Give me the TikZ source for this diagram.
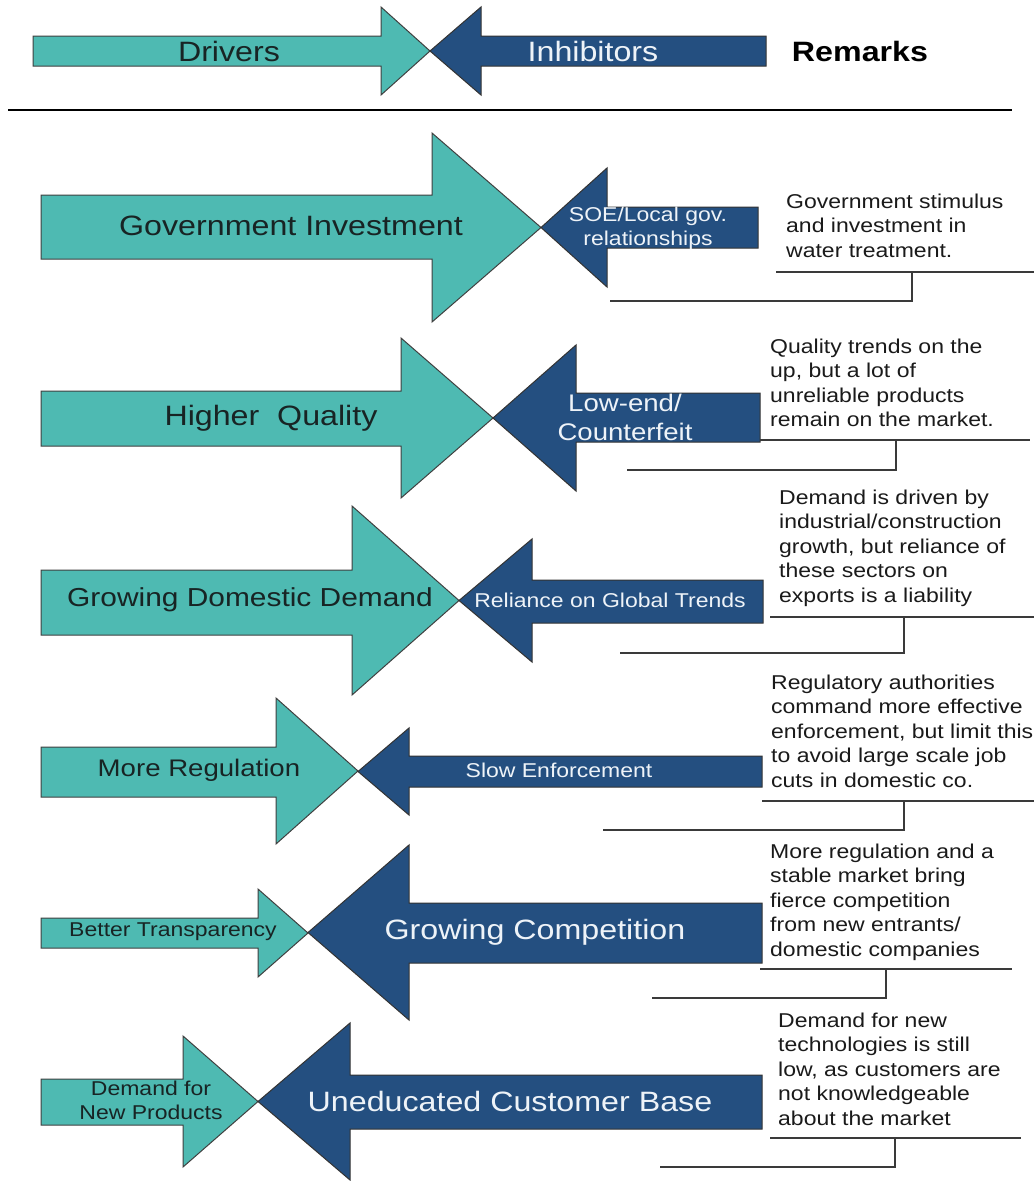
\documentclass[tikz,border=0pt]{standalone}
\usepackage{fontspec}
\setmainfont{Liberation Sans}[FakeStretch=1.15]
\definecolor{drvfill}{RGB}{78,186,178}
\definecolor{inhfill}{RGB}{36,79,128}
\definecolor{darktxt}{RGB}{24,36,36}
\definecolor{lighttxt}{RGB}{238,243,248}
\definecolor{remtxt}{RGB}{26,26,26}
\definecolor{linecol}{RGB}{58,58,58}
\newcommand{\RArrow}[7]{%
  \filldraw[drv] (#1,#4) -- (#2,#4) -- (#2,#6) -- (#3,{(#6+#7)/2}) -- (#2,#7) -- (#2,#5) -- (#1,#5) -- cycle;}
\newcommand{\LArrow}[7]{%
  \filldraw[inh] (#3,#4) -- (#2,#4) -- (#2,#6) -- (#1,{(#6+#7)/2}) -- (#2,#7) -- (#2,#5) -- (#3,#5) -- cycle;}
\begin{document}
\begin{tikzpicture}[x=1pt,y=-1pt,
  drv/.style={fill=drvfill,draw=black!75,line width=1pt,line join=miter},
  inh/.style={fill=inhfill,draw=black!80,line width=1pt,line join=miter},
  bigdark/.style={inner sep=0pt,text=darktxt,font=\fontsize{28}{33}\selectfont},
  bigwhite/.style={inner sep=0pt,text=lighttxt,font=\fontsize{28}{33}\selectfont},
  smdark/.style={inner sep=0pt,text=darktxt,align=center,font=\fontsize{20}{24}\selectfont},
  smwhite/.style={inner sep=0pt,text=lighttxt,align=center,font=\fontsize{20}{24}\selectfont},
  remark/.style={inner sep=0pt,anchor=north west,align=left,text=remtxt,font=\fontsize{20}{24.5}\selectfont},
  bracket/.style={draw=linecol,line width=1.5pt}]
\useasboundingbox (0,0) rectangle (1034,1181);
\fill[white] (0,0) rectangle (1034,1181);

% header
\RArrow{33}{381}{430}{36}{66}{7}{95}
\LArrow{430}{481}{766}{36}{66}{7}{95}
\node[bigdark] (hdrv) at (229,51) {Drivers};
\node[bigwhite] (hinh) at (593,51) {Inhibitors};
\node[inner sep=0pt,text=black,font=\fontsize{28}{33}\selectfont\bfseries] (hrem) at (860,51) {Remarks};
\coordinate (sepL) at (8,110);
\coordinate (sepR) at (1012,110);
\draw[black,line width=1.5pt] (sepL) -- (sepR);

% row 1
\RArrow{41}{432}{541}{195}{259}{133}{322}
\LArrow{541}{607}{758}{207}{248}{168}{287}
\node[bigdark] (d1) at (291,226) {Government Investment};
\node[smwhite] (i1) at (648,228) {SOE/Local gov.\\relationships};
\node[remark] (r1) at (786,191) {\strut Government stimulus\\and investment in\\water treatment.};
\coordinate (u1L) at (776,272); \coordinate (u1R) at (1034,272);
\coordinate (u1M) at (912,272); \coordinate (b1L) at (610,301);
\draw[bracket] (u1L) -- (u1R);
\draw[bracket] (u1M) |- (b1L);

% row 2
\RArrow{41}{401}{493}{391}{446}{338}{498}
\LArrow{493}{576}{760}{393}{442}{345}{491}
\node[bigdark] (d2) at (271,418) {Higher\ \ Quality};
\node[inner sep=0pt,text=lighttxt,align=center,font=\fontsize{24}{29}\selectfont] (i2) at (625,417) {Low-end/\\Counterfeit};
\node[remark] (r2) at (770,336) {\strut Quality trends on the\\up, but a lot of\\unreliable products\\remain on the market.};
\coordinate (u2L) at (760,440); \coordinate (u2R) at (1030,440);
\coordinate (u2M) at (896,440); \coordinate (b2L) at (627,470);
\draw[bracket] (u2L) -- (u2R);
\draw[bracket] (u2M) |- (b2L);

% row 3
\RArrow{41}{352}{459}{570}{635}{506}{695}
\LArrow{459}{532}{763}{580}{623}{539}{662}
\node[inner sep=0pt,text=darktxt,font=\fontsize{26}{31}\selectfont] (d3) at (250,600) {Growing Domestic Demand};
\node[smwhite] (i3) at (610,600) {Reliance on Global Trends};
\node[remark] (r3) at (779,487) {\strut Demand is driven by\\industrial/construction\\growth, but reliance of\\these sectors on\\exports is a liability};
\coordinate (u3L) at (770,617); \coordinate (u3R) at (1034,617);
\coordinate (u3M) at (904,617); \coordinate (b3L) at (620,653);
\draw[bracket] (u3L) -- (u3R);
\draw[bracket] (u3M) |- (b3L);

% row 4
\RArrow{41}{276}{358}{747}{797}{698}{844}
\LArrow{358}{409}{762}{756}{787}{728}{815}
\node[inner sep=0pt,text=darktxt,font=\fontsize{24}{29}\selectfont] (d4) at (199,770) {More Regulation};
\node[smwhite] (i4) at (559,770) {Slow Enforcement};
\node[remark] (r4) at (771,672) {\strut Regulatory authorities\\command more effective\\enforcement, but limit this\\to avoid large scale job\\cuts in domestic co.};
\coordinate (u4L) at (762,801); \coordinate (u4R) at (1034,801);
\coordinate (u4M) at (904,801); \coordinate (b4L) at (603,830);
\draw[bracket] (u4L) -- (u4R);
\draw[bracket] (u4M) |- (b4L);

% row 5
\RArrow{41}{258}{308}{918}{948}{889}{977}
\LArrow{308}{409}{762}{903}{963}{845}{1020}
\node[smdark] (d5) at (173,932) {Better Transparency};
\node[bigwhite] (i5) at (535,932) {Growing Competition};
\node[remark] (r5) at (770,841) {\strut More regulation and a\\stable market bring\\fierce competition\\from new entrants/\\domestic companies};
\coordinate (u5L) at (760,969); \coordinate (u5R) at (1012,969);
\coordinate (u5M) at (886,969); \coordinate (b5L) at (652,998);
\draw[bracket] (u5L) -- (u5R);
\draw[bracket] (u5M) |- (b5L);

% row 6
\RArrow{41}{183}{258}{1079}{1125}{1036}{1167}
\LArrow{258}{350}{762}{1075}{1129}{1023}{1180}
\node[smdark] (d6) at (151,1100) {Demand for\\New Products};
\node[bigwhite] (i6) at (510,1101) {Uneducated Customer Base};
\node[remark] (r6) at (778,1010) {\strut Demand for new\\technologies is still\\low, as customers are\\not knowledgeable\\about the market};
\coordinate (u6L) at (770,1138); \coordinate (u6R) at (1021,1138);
\coordinate (u6M) at (895,1138); \coordinate (b6L) at (660,1167);
\draw[bracket] (u6L) -- (u6R);
\draw[bracket] (u6M) |- (b6L);
\end{tikzpicture}
\end{document}
